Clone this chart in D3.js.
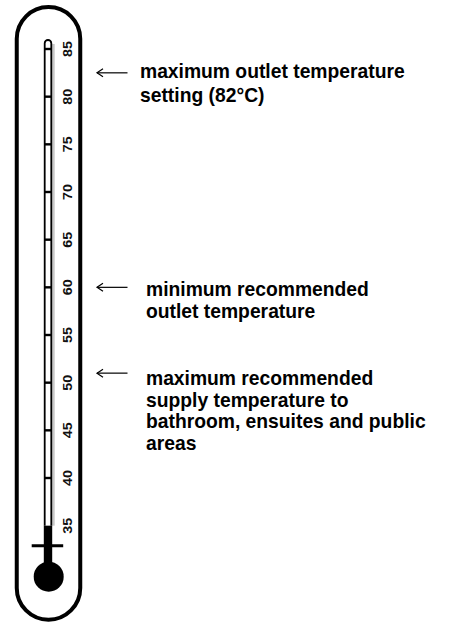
<!DOCTYPE html>
<html>
<head>
<meta charset="utf-8">
<script src="https://cdn.jsdelivr.net/npm/d3@7"></script>
<style>
  html, body { margin: 0; padding: 0; background: #fff; }
  svg { display: block; }
</style>
</head>
<body>
<svg id="chart" width="473" height="628"></svg>
<script>
// ---- data ----
const tickValues = [40, 45, 50, 55, 60, 65, 70, 75, 80, 85];
const scaleLabels = ["35", "40", "45", "50", "55", "60", "65", "70", "75", "80", "85"];
const labelValues = [35, 40, 45, 50, 55, 60, 65, 70, 75, 80, 85];
const mercuryLevel = 35;
const annotationValues = [82.5, 60, 51];
const annotationTexts = [
  ["maximum outlet temperature", "setting (82°C)"],
  ["minimum recommended", "outlet temperature"],
  ["maximum recommended", "supply temperature to", "bathroom, ensuites and public", "areas"]
];

// ---- layout ----
const svg = d3.select("#chart");
const y = d3.scaleLinear().domain([40, 85]).range([478, 49]);
const cx = 48.5;            // tube centre
const tubeR = 31.75;
const tubeTop = 38.75, tubeBottom = 588;
const capL = 44.7, capR = 51.3;
const capTop = 40;
const font = "'Liberation Sans', Arial, Helvetica, sans-serif";

// outer tube
const outer = d3.path();
outer.moveTo(cx - tubeR, tubeBottom);
outer.lineTo(cx - tubeR, tubeTop);
outer.arc(cx, tubeTop, tubeR, Math.PI, 0);
outer.lineTo(cx + tubeR, tubeBottom);
outer.arc(cx, tubeBottom, tubeR, 0, Math.PI);
svg.append("path").attr("d", outer.toString())
  .attr("fill", "none").attr("stroke", "#000").attr("stroke-width", 4);

// capillary shading
svg.append("rect")
  .attr("x", capR + 0.8).attr("y", capTop + 4)
  .attr("width", 2.6).attr("height", y(mercuryLevel) - capTop - 4)
  .attr("fill", "#c8c8c8");

// capillary outline
const capRad = (capR - capL) / 2;
const cap = d3.path();
cap.moveTo(capL, y(mercuryLevel));
cap.lineTo(capL, capTop + capRad);
cap.arc((capL + capR) / 2, capTop + capRad, capRad, Math.PI, 0);
cap.lineTo(capR, y(mercuryLevel));
svg.append("path").attr("d", cap.toString())
  .attr("fill", "#fff").attr("stroke", "#000").attr("stroke-width", 1.8);

// ticks
svg.selectAll("line.tick").data(tickValues).enter().append("line")
  .attr("class", "tick")
  .attr("x1", capL - 0.5).attr("x2", capR + 0.5)
  .attr("y1", d => y(d)).attr("y2", d => y(d))
  .attr("stroke", "#000").attr("stroke-width", 2.4);

// mercury column
const bulbCy = 576.7, bulbR = 15;
svg.append("rect")
  .attr("x", capL - 0.9).attr("y", y(mercuryLevel))
  .attr("width", capR - capL + 1.8).attr("height", bulbCy - y(mercuryLevel))
  .attr("fill", "#000");
// crossbar
svg.append("line")
  .attr("x1", 31.7).attr("x2", 63.2)
  .attr("y1", 545.7).attr("y2", 545.7)
  .attr("stroke", "#000").attr("stroke-width", 3);
// bulb
svg.append("circle").attr("cx", cx + 0.2).attr("cy", bulbCy).attr("r", bulbR).attr("fill", "#000");

// scale labels (rotated)
svg.selectAll("text.scale").data(labelValues).enter().append("text")
  .attr("class", "scale")
  .attr("transform", d => `translate(67.5,${y(d)}) rotate(-90) scale(1.2,1)`)
  .attr("text-anchor", "middle")
  .attr("dominant-baseline", "central")
  .attr("font-family", font).attr("font-weight", "bold").attr("font-size", 12)
  .attr("fill", "#111")
  .text((d, i) => scaleLabels[i]);

// annotations
const arrowX1 = 97, arrowX2 = 127.5;
const textX = [140, 146, 146];
const textDy = [5, 9, 12];
const lineH = [24, 22, 21.5];
annotationValues.forEach((v, i) => {
  const ay = y(v);
  svg.append("line")
    .attr("x1", arrowX1).attr("x2", arrowX2).attr("y1", ay).attr("y2", ay)
    .attr("stroke", "#000").attr("stroke-width", 1.2);
  svg.append("path")
    .attr("d", `M${arrowX1 + 6},${ay - 4} L${arrowX1},${ay} L${arrowX1 + 6},${ay + 4}`)
    .attr("fill", "none").attr("stroke", "#000").attr("stroke-width", 1.2);
  const t = svg.append("text")
    .attr("font-family", font).attr("font-weight", "bold").attr("font-size", 19.3)
    .attr("fill", "#000");
  annotationTexts[i].forEach((line, j) => {
    t.append("tspan").attr("x", textX[i]).attr("y", ay + textDy[i] + j * lineH[i]).text(line);
  });
});
</script>
</body>
</html>
